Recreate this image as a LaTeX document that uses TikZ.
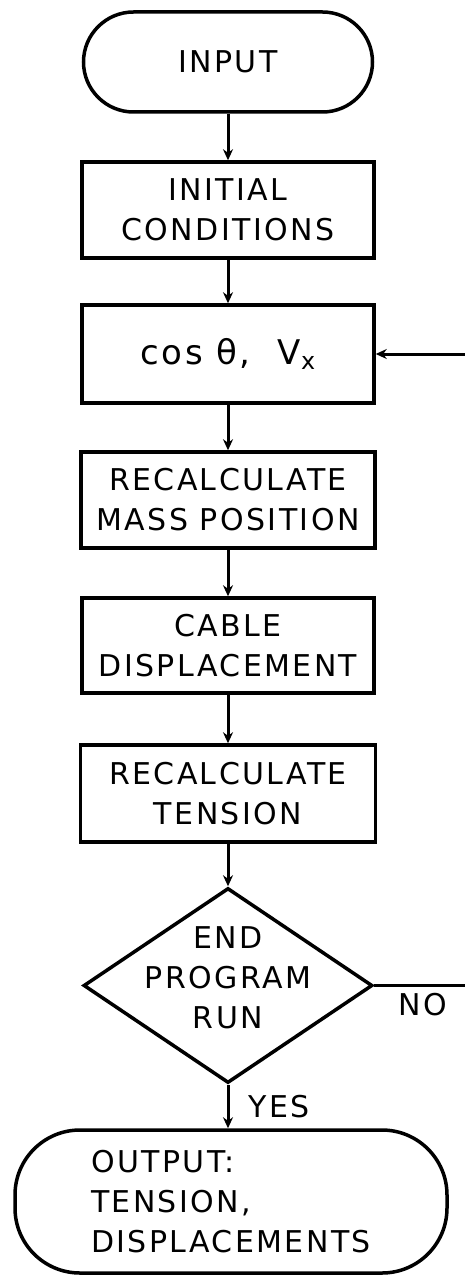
\documentclass[tikz,border=0pt]{standalone}
\usepackage{fontspec}
\setmainfont{DejaVu Sans}[LetterSpace=8]
\usetikzlibrary{arrows.meta,shapes.geometric}
\begin{document}
\begin{tikzpicture}[x=1pt,y=-1pt,
  every node/.style={font=\fontsize{30}{40}\selectfont},
  box/.style={draw, line width=3.5pt, minimum width=292pt, minimum height=96pt, align=center, inner sep=0pt},
  term/.style={box, rounded corners=50pt},
  conn/.style={draw, line width=3pt, -{Stealth[length=11pt,width=10pt]}},
  lbl/.style={inner sep=0pt}]
\useasboundingbox (0,0) rectangle (465,1276);
\node[term, minimum height=100pt, minimum width=289pt] (input) at (228,62) {INPUT};
\node[box] (init) at (228,210) {INITIAL\\CONDITIONS};
\node[box, minimum height=98pt, font=\fontsize{34}{40}\selectfont] (cos) at (228,354) {cos θ,\ \ V\textsubscript{x}};
\node[box, minimum width=294pt] (mass) at (228,500) {RECALCULATE\\MASS POSITION};
\node[box, minimum height=95pt] (cable) at (228,645.5) {CABLE\\DISPLACEMENT};
\node[box, minimum width=295pt, minimum height=97pt] (tens) at (228,793.5) {RECALCULATE\\TENSION};
\node[diamond, draw, line width=3.5pt, minimum width=289pt, minimum height=195pt, inner sep=0pt] (dec) at (228,985.5) {};
\node[lbl, align=center] (dectext) at (228,978) {END\\PROGRAM\\RUN};
\node[term, rounded corners=65pt, minimum width=432pt, minimum height=143pt, align=left] (out) at (231,1201.5) {OUTPUT:\\ TENSION,\\DISPLACEMENTS};
\coordinate (loopa) at (472,985.5);
\node[lbl] (no) at (423,1005) {NO};
\node[lbl] (yes) at (279,1107) {YES};
\draw[conn] (input.south) -- (init.north);
\draw[conn] (init.south) -- (cos.north);
\draw[conn] (cos.south) -- (mass.north);
\draw[conn] (mass.south) -- (cable.north);
\draw[conn] (cable.south) -- (tens.north);
\draw[conn] (tens.south) -- (dec.north);
\draw[conn] (dec.south) -- (dec.south |- out.north);
\draw[conn] (dec.east) -- (loopa) |- (cos.east);
\end{tikzpicture}
\end{document}
